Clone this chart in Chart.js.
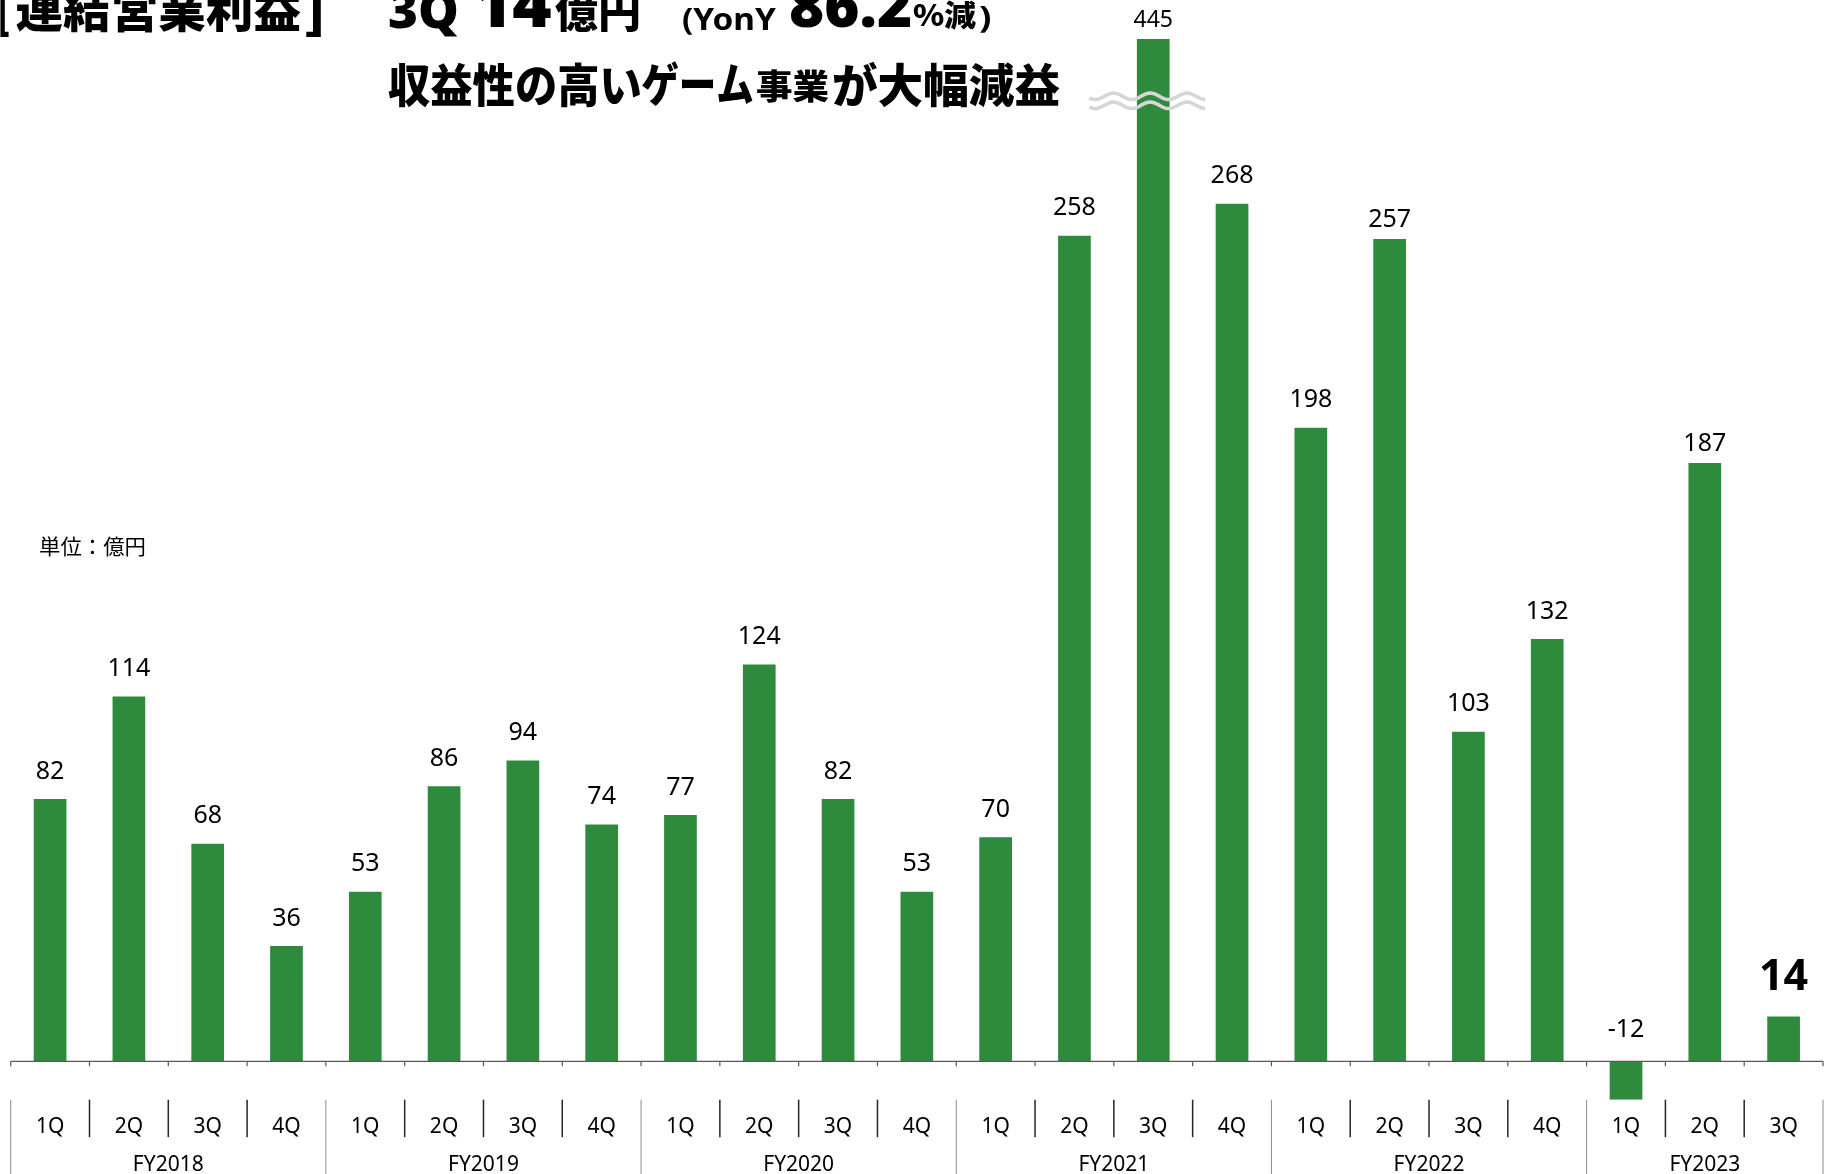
<!DOCTYPE html>
<html><head><meta charset="utf-8">
<script src="https://cdn.jsdelivr.net/npm/chart.js@4.4.1/dist/chart.umd.min.js"></script>
<style>
html,body{margin:0;padding:0;background:#fff;overflow:hidden}
#wrap{position:relative;width:1831px;height:1174px}
canvas{display:block}
</style></head><body>
<div id="wrap"><canvas id="c" width="1831" height="1174"></canvas></div>
<script>
// ---- data ----
const quarterLabels = ['1Q','2Q','3Q','4Q','1Q','2Q','3Q','4Q','1Q','2Q','3Q','4Q','1Q','2Q','3Q','4Q','1Q','2Q','3Q','4Q','1Q','2Q','3Q'];
const fiscalYears = ['FY2018','FY2019','FY2020','FY2021','FY2022','FY2023'];
const quartersPerYear = [4,4,4,4,4,3];
const operatingProfit = [82,114,68,36,53,86,94,74,77,124,82,53,70,258,445,268,198,257,103,132,-12,187,14];
const titleMain = '連結営業利益';
const titleSub = '収益性の高いゲーム事業が大幅減益';
const unitLabel = '単位：億円';
const axisMin = -12;
const axisMax = 319.5; // broken axis: the 445 bar is cut

// ---- helpers ----
function fitInk(ctx, text, font, x0, x1, bottom, color) {
  ctx.save();
  ctx.font = font;
  ctx.textAlign = 'left';
  ctx.textBaseline = 'alphabetic';
  ctx.fillStyle = color || '#000';
  const m = ctx.measureText(text);
  const inkW = m.actualBoundingBoxLeft + m.actualBoundingBoxRight;
  const s = (x1 - x0) / inkW;
  ctx.translate(x0 + m.actualBoundingBoxLeft * s, bottom - m.actualBoundingBoxDescent);
  ctx.scale(s, 1);
  ctx.fillText(text, 0, 0);
  ctx.restore();
}

const GREEN = '#2E8B3E';
const CJK = '"Noto Sans CJK JP"';
const LAT = '"Noto Sans"';

const decoPlugin = {
  id: 'deco',
  afterDatasetsDraw(chart) {
    const ctx = chart.ctx;
    const xs = chart.scales.x, ys = chart.scales.y;
    const area = chart.chartArea;
    const y0 = ys.getPixelForValue(0);
    const meta = chart.getDatasetMeta(0);
    const n = operatingProfit.length;
    const bounds = [];
    for (let i = 0; i <= n; i++) {
      if (i === 0) bounds.push(xs.left);
      else if (i === n) bounds.push(xs.right);
      else bounds.push((xs.getPixelForTick(i - 1) + xs.getPixelForTick(i)) / 2);
    }
    ctx.save();
    // zero axis line + small ticks
    ctx.strokeStyle = '#595959';
    ctx.lineWidth = 1.2;
    ctx.beginPath();
    ctx.moveTo(xs.left, y0); ctx.lineTo(xs.right, y0);
    bounds.forEach(b => { ctx.moveTo(b, y0); ctx.lineTo(b, y0 + 5); });
    ctx.stroke();
    // separators
    const yearStarts = [0];
    quartersPerYear.forEach(q => yearStarts.push(yearStarts[yearStarts.length - 1] + q));
    bounds.forEach((b, i) => {
      if (yearStarts.includes(i)) return;
      ctx.strokeStyle = '#262626'; ctx.lineWidth = 1.5;
      ctx.beginPath(); ctx.moveTo(b, area.bottom); ctx.lineTo(b, area.bottom + 37.5); ctx.stroke();
    });
    yearStarts.forEach(i => {
      ctx.strokeStyle = '#8c8c8c'; ctx.lineWidth = 1;
      ctx.beginPath(); ctx.moveTo(bounds[i], area.bottom); ctx.lineTo(bounds[i], chart.height); ctx.stroke();
    });
    // FY labels
    ctx.fillStyle = '#000';
    ctx.font = '21px ' + LAT;
    ctx.textAlign = 'center';
    ctx.textBaseline = 'alphabetic';
    fiscalYears.forEach((fy, k) => {
      const cx = (bounds[yearStarts[k]] + bounds[yearStarts[k + 1]]) / 2;
      ctx.fillText(fy, cx, 1171);
    });
    // value labels
    const closeLabels = [17, 21];
    meta.data.forEach((bar, i) => {
      const v = operatingProfit[i];
      let y;
      ctx.font = '25px ' + LAT;
      if (i === n - 1) { ctx.font = 'bold 43px ' + LAT; y = bar.y - 26.4; }
      else if (bar.y < area.top) { ctx.font = '23px ' + LAT; y = area.top - 12.3; }
      else if (v < 0) y = y0 - 24.6;
      else if (closeLabels.includes(i)) y = bar.y - 12.4;
      else y = bar.y - 20.4;
      ctx.fillText(String(v), bar.x, y);
    });
    // wavy break mark on the cut bar
    meta.data.forEach((bar) => {
      if (bar.y >= area.top) return;
      const xa = bar.x - 64, xb = bar.x + 52;
      ctx.strokeStyle = '#d6d6d6';
      ctx.lineWidth = 3.6;
      [96.3, 105.3].forEach(cy => {
        ctx.beginPath();
        for (let x = xa; x <= xb; x += 1) {
          const yy = cy - 3.2 * Math.cos((x - (bar.x - 3)) / 36.7 * 2 * Math.PI);
          if (x === xa) ctx.moveTo(x, yy); else ctx.lineTo(x, yy);
        }
        ctx.stroke();
      });
    });
    ctx.restore();
  },
  afterDraw(chart) {
    const ctx = chart.ctx;
    // title line 1
    fitInk(ctx, '[', '700 50px ' + LAT, 0, 9, 36.7);
    fitInk(ctx, titleMain, '900 48px ' + CJK, 16.5, 301, 33.3);
    fitInk(ctx, ']', '700 50px ' + LAT, 306, 322, 36.7);
    fitInk(ctx, '3Q', '900 50px ' + LAT, 389, 458, 36.7);
    fitInk(ctx, '14', '900 66px ' + LAT, 475, 551, 27);
    fitInk(ctx, '億円', '900 42px ' + CJK, 555, 639, 33.3);
    fitInk(ctx, '(YonY', '700 30px ' + LAT, 683, 776, 35);
    fitInk(ctx, '86.2', '900 60px ' + LAT, 790, 910, 28.3);
    fitInk(ctx, '%減', '900 30px ' + CJK, 913, 976, 30);
    fitInk(ctx, ')', '700 30px ' + LAT, 979, 990, 33);
    // title line 2
    fitInk(ctx, titleSub.slice(0, 6), '900 46px ' + CJK, 388, 640, 108.3);
    fitInk(ctx, titleSub.slice(6, 9), '900 46px ' + CJK, 642, 753, 106.5);
    fitInk(ctx, titleSub.slice(9, 11), '900 34px ' + CJK, 757, 829, 103);
    fitInk(ctx, titleSub.slice(11), '900 46px ' + CJK, 833, 1060, 108.3);
    // unit
    fitInk(ctx, unitLabel, '400 21px ' + CJK, 40, 145, 556.7);
  }
};

new Chart(document.getElementById('c'), {
  type: 'bar',
  data: {
    labels: quarterLabels,
    datasets: [{
      data: operatingProfit,
      backgroundColor: GREEN,
      borderWidth: 0,
      barPercentage: 0.415,
      categoryPercentage: 1.0
    }]
  },
  options: {
    responsive: false,
    animation: false,
    devicePixelRatio: 1,
    layout: { padding: { left: 10.7, right: 8, top: 39, bottom: 19.7 } },
    plugins: { legend: { display: false }, tooltip: { enabled: false }, title: { display: false } },
    scales: {
      x: {
        offset: true,
        grid: { display: false, drawTicks: false },
        border: { display: false },
        ticks: { color: '#000', font: { family: '"Noto Sans"', size: 21 }, padding: 14.7, maxRotation: 0, autoSkip: false }
      },
      y: { display: false, min: axisMin, max: axisMax }
    }
  },
  plugins: [decoPlugin]
});
</script>
</body></html>
